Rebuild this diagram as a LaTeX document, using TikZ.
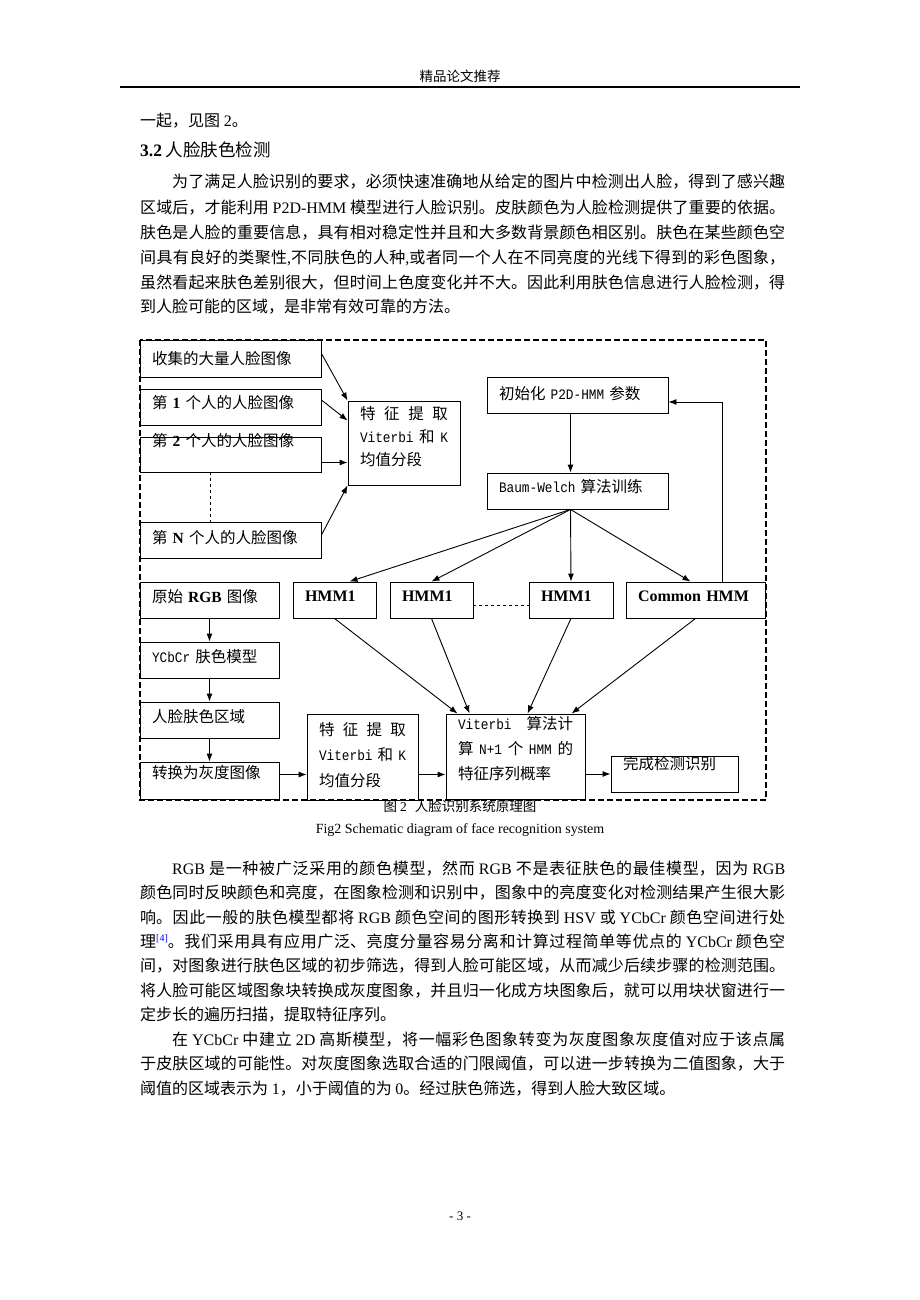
\documentclass[tikz,border=0pt]{standalone}
\usepackage{fontspec}
\setmainfont{Noto Sans CJK SC}
\newfontfamily\tnr{Liberation Serif}
\newfontfamily\mono{Liberation Mono}[FakeStretch=0.88]
\usetikzlibrary{arrows.meta}

\XeTeXlinebreaklocale "zh"
\XeTeXlinebreakskip=0pt plus 3pt
\hbadness=10000

\newcommand\en[1]{{\tnr #1}}
\newcommand\enb[1]{{\tnr\bfseries #1}}
\newcommand\ms[1]{{\mono\fontsize{14.5}{20}\selectfont #1}}
\newcommand\bodyfont{\fontsize{16}{24}\selectfont}
\newcommand\dgmfont{\fontsize{15.5}{24}\selectfont}
\newcommand\jline[1]{\parbox[b]{645pt}{\parfillskip=0pt\relax #1}}

\tikzset{
  box/.style={draw, line width=0.9pt, rectangle, inner xsep=12pt, inner ysep=0pt,
    align=left, font=\dgmfont, text height=12pt, text depth=0pt},
  txt/.style={anchor=base west, inner sep=0pt, font=\bodyfont},
  link/.style={->, line width=0.9pt},
  frame/.style={draw, line width=1.5pt, dash pattern=on 6pt off 3pt}
}

\begin{document}
\begin{tikzpicture}[x=1pt, y=-1pt, >={Latex[length=8pt,width=6pt]}]
\fill[white] (0,0) rectangle (920,1300);
\useasboundingbox (0,0) rectangle (920,1300);

% page head
\node[font=\fontsize{13.5}{16}\selectfont] (hdr) at (460,76) {精品论文推荐};
\draw[line width=1.2pt] (120,87) -- (800,87);

\node[txt] (l0) at (140,127) {一起，见图 \en{2}。};
\node[txt, font=\fontsize{17.5}{20}\selectfont] (sec) at (140,157) {\enb{3.2} 人脸肤色检测};

\node[txt] (p1a) at (140,188) {\jline{\hspace*{32pt}为了满足人脸识别的要求，必须快速准确地从给定的图片中检测出人脸，得到了感兴趣}};
\node[txt] (p1b) at (140,213) {\jline{区域后，才能利用 \en{P2D-HMM} 模型进行人脸识别。皮肤颜色为人脸检测提供了重要的依据。}};
\node[txt] (p1c) at (140,238) {\jline{肤色是人脸的重要信息，具有相对稳定性并且和大多数背景颜色相区别。肤色在某些颜色空}};
\node[txt] (p1d) at (140,263) {\jline{间具有良好的类聚性\en{,}不同肤色的人种\en{,}或者同一个人在不同亮度的光线下得到的彩色图象，}};
\node[txt] (p1e) at (140,288) {\jline{虽然看起来肤色差别很大，但时间上色度变化并不大。因此利用肤色信息进行人脸检测，得}};
\node[txt] (p1f) at (140,312) {到人脸可能的区域，是非常有效可靠的方法。};

% diagram
\draw[frame] (140,340) rectangle (766,800);

\node[box, text width=157pt, minimum height=37pt] (c1) at (230.5,358.5) {收集的大量人脸图像};
\node[box, text width=157pt, minimum height=36pt, text height=2pt] (c2) at (230.5,407) {第 \enb{1} 个人的人脸图像};
\node[box, text width=157pt, minimum height=35pt, text height=0pt, text depth=17pt] (c3) at (230.5,454.5) {第 \enb{2} 个人的人脸图像};
\node[box, text width=157pt, minimum height=36pt, text height=6pt] (cN) at (230.5,540) {第 \enb{N} 个人的人脸图像};
\node[box, text width=88pt, minimum height=84pt, text height=13pt, text depth=61pt,
  font=\fontsize{15.5}{23}\selectfont] (feat1) at (404,443)
  {\makebox[88pt][s]{特\hfill 征\hfill 提\hfill 取}\\\makebox[88pt][s]{\ms{Viterbi}\hfill 和\hfill\ms{K}}\\均值分段};

\node[box, text width=157pt, minimum height=36pt, text height=8pt] (init) at (577.5,395) {初始化 \ms{P2D-HMM} 参数};
\node[box, text width=157pt, minimum height=36pt, text height=2pt] (baum) at (577.5,491) {\ms{Baum-Welch} 算法训练};

\node[box, text width=59pt, minimum height=36pt, text height=2pt] (hm1) at (334.5,600) {\enb{\fontsize{16}{20}\selectfont HMM1}};
\node[box, text width=59pt, minimum height=36pt, text height=2pt] (hm2) at (431.5,600) {\enb{\fontsize{16}{20}\selectfont HMM1}};
\node[box, text width=60pt, minimum height=36pt, text height=2pt] (hm3) at (571,600) {\enb{\fontsize{16}{20}\selectfont HMM1}};
\node[box, text width=115pt, minimum height=36pt, text height=2pt] (hmc) at (695.5,600) {\enb{\fontsize{16}{20}\selectfont Common HMM}};

\node[box, text width=115pt, minimum height=36pt, text height=4pt] (rgb) at (209.5,600) {原始 \enb{RGB} 图像};
\node[box, text width=115pt, minimum height=36pt, text height=4pt] (ycc) at (209.5,660) {\ms{YCbCr} 肤色模型};
\node[box, text width=115pt, minimum height=36pt, text height=4pt] (skin) at (209.5,720) {人脸肤色区域};
\node[box, text width=115pt, minimum height=37pt, text height=0pt, text depth=4pt] (conv) at (209.5,780.5) {转换为灰度图像};
\node[box, text width=87pt, minimum height=86pt, text height=13pt, text depth=57pt,
  font=\fontsize{15.5}{25.5}\selectfont] (feat2) at (362.5,757)
  {\makebox[87pt][s]{特\hfill 征\hfill 提\hfill 取}\\\makebox[87pt][s]{\ms{Viterbi}\hfill 和\hfill\ms{K}}\\均值分段};
\node[box, text width=115pt, minimum height=85pt, text height=13pt, text depth=68pt,
  font=\fontsize{15.5}{25}\selectfont] (vit) at (515.5,756.5)
  {\makebox[115pt][s]{\ms{Viterbi}\hfill 算法计}\\\makebox[115pt][s]{算\hfill\ms{N+1}\hfill 个\hfill\ms{HMM}\hfill 的}\\特征序列概率};
\node[box, text width=103pt, minimum height=36pt, text height=0pt, text depth=10pt] (done) at (674.5,774) {完成检测识别};

\draw[link] ([yshift=5pt]c1.east) -- (feat1.north west);
\draw[link] ([yshift=7pt]c2.east) -- ([yshift=-20pt]feat1.north west);
\draw[link] ([yshift=-8pt]c3.east) -- ([yshift=-8pt]c3.east -| feat1.west);
\draw[link] ([yshift=5pt]cN.east) -- (feat1.south west);
\draw[line width=0.9pt, dashed] ([xshift=-20pt]c3.south) -- ([xshift=-20pt]cN.north);

\draw[link] ([xshift=-7pt]init.south) -- ([xshift=-7pt]baum.north);
\coordinate (bw) at ([xshift=-7pt]baum.south);
\draw[link] (bw) -- ([xshift=15pt]hm1.north);
\draw[link] (bw) -- (hm2.north);
\draw[link] (bw) -- (hm3.north);
\draw[link] (bw) -- ([xshift=-5pt]hmc.north);
\draw[link] ([xshift=27pt]hmc.north) |- ([yshift=-7pt]init.east);
\draw[line width=0.9pt, dashed] ([yshift=-5pt]hm2.east) -- ([yshift=-5pt]hm3.west);

\draw[link] (hm1.south) -- ([xshift=12pt]vit.north west);
\draw[link] (hm2.south) -- ([xshift=24pt]vit.north west);
\draw[link] (hm3.south) -- ([xshift=82pt]vit.north west);
\draw[link] (hmc.south) -- ([xshift=126pt]vit.north west);

\draw[link] (rgb.south) -- (ycc.north);
\draw[link] (ycc.south) -- (skin.north);
\draw[link] (skin.south) -- (conv.north);
\draw[link] ([yshift=6pt]conv.east) -- ([yshift=6pt]conv.east -| feat2.west);
\draw[link] ([yshift=6pt]conv.east -| feat2.east) -- ([yshift=6pt]conv.east -| vit.west);
\draw[link] (done.west -| vit.east) -- (done.west);

\node[font=\fontsize{13.5}{16}\selectfont] (cap) at (460,806) {图 \en{2}\hspace{8pt}人脸识别系统原理图};
\node[font=\tnr\fontsize{14}{16}\selectfont] (capen) at (460,830) {Fig2 Schematic diagram of face recognition system};

% text below
\node[txt] (p2a) at (140,874) {\jline{\hspace*{32pt}\en{RGB} 是一种被广泛采用的颜色模型，然而 \en{RGB} 不是表征肤色的最佳模型，因为 \en{RGB}}};
\node[txt] (p2b) at (140,898) {\jline{颜色同时反映颜色和亮度，在图象检测和识别中，图象中的亮度变化对检测结果产生很大影}};
\node[txt] (p2c) at (140,923) {\jline{响。因此一般的肤色模型都将 \en{RGB} 颜色空间的图形转换到 \en{HSV} 或 \en{YCbCr} 颜色空间进行处}};
\node[txt] (p2d) at (140,947) {\jline{理\raisebox{6pt}{\tnr\fontsize{10}{10}\selectfont\color{blue}[4]}。我们采用具有应用广泛、亮度分量容易分离和计算过程简单等优点的 \en{YCbCr} 颜色空}};
\node[txt] (p2e) at (140,971) {\jline{间，对图象进行肤色区域的初步筛选，得到人脸可能区域，从而减少后续步骤的检测范围。}};
\node[txt] (p2f) at (140,996) {\jline{将人脸可能区域图象块转换成灰度图象，并且归一化成方块图象后，就可以用块状窗进行一}};
\node[txt] (p2g) at (140,1020) {定步长的遍历扫描，提取特征序列。};
\node[txt] (p3a) at (140,1045) {\jline{\hspace*{32pt}在 \en{YCbCr} 中建立 \en{2D} 高斯模型，将一幅彩色图象转变为灰度图象灰度值对应于该点属}};
\node[txt] (p3b) at (140,1069) {\jline{于皮肤区域的可能性。对灰度图象选取合适的门限阈值，可以进一步转换为二值图象，大于}};
\node[txt] (p3c) at (140,1094) {阈值的区域表示为 \en{1}，小于阈值的为 \en{0}。经过肤色筛选，得到人脸大致区域。};

\node[font=\tnr\fontsize{13}{16}\selectfont] (pg) at (460,1216) {- 3 -};
\end{tikzpicture}
\end{document}
